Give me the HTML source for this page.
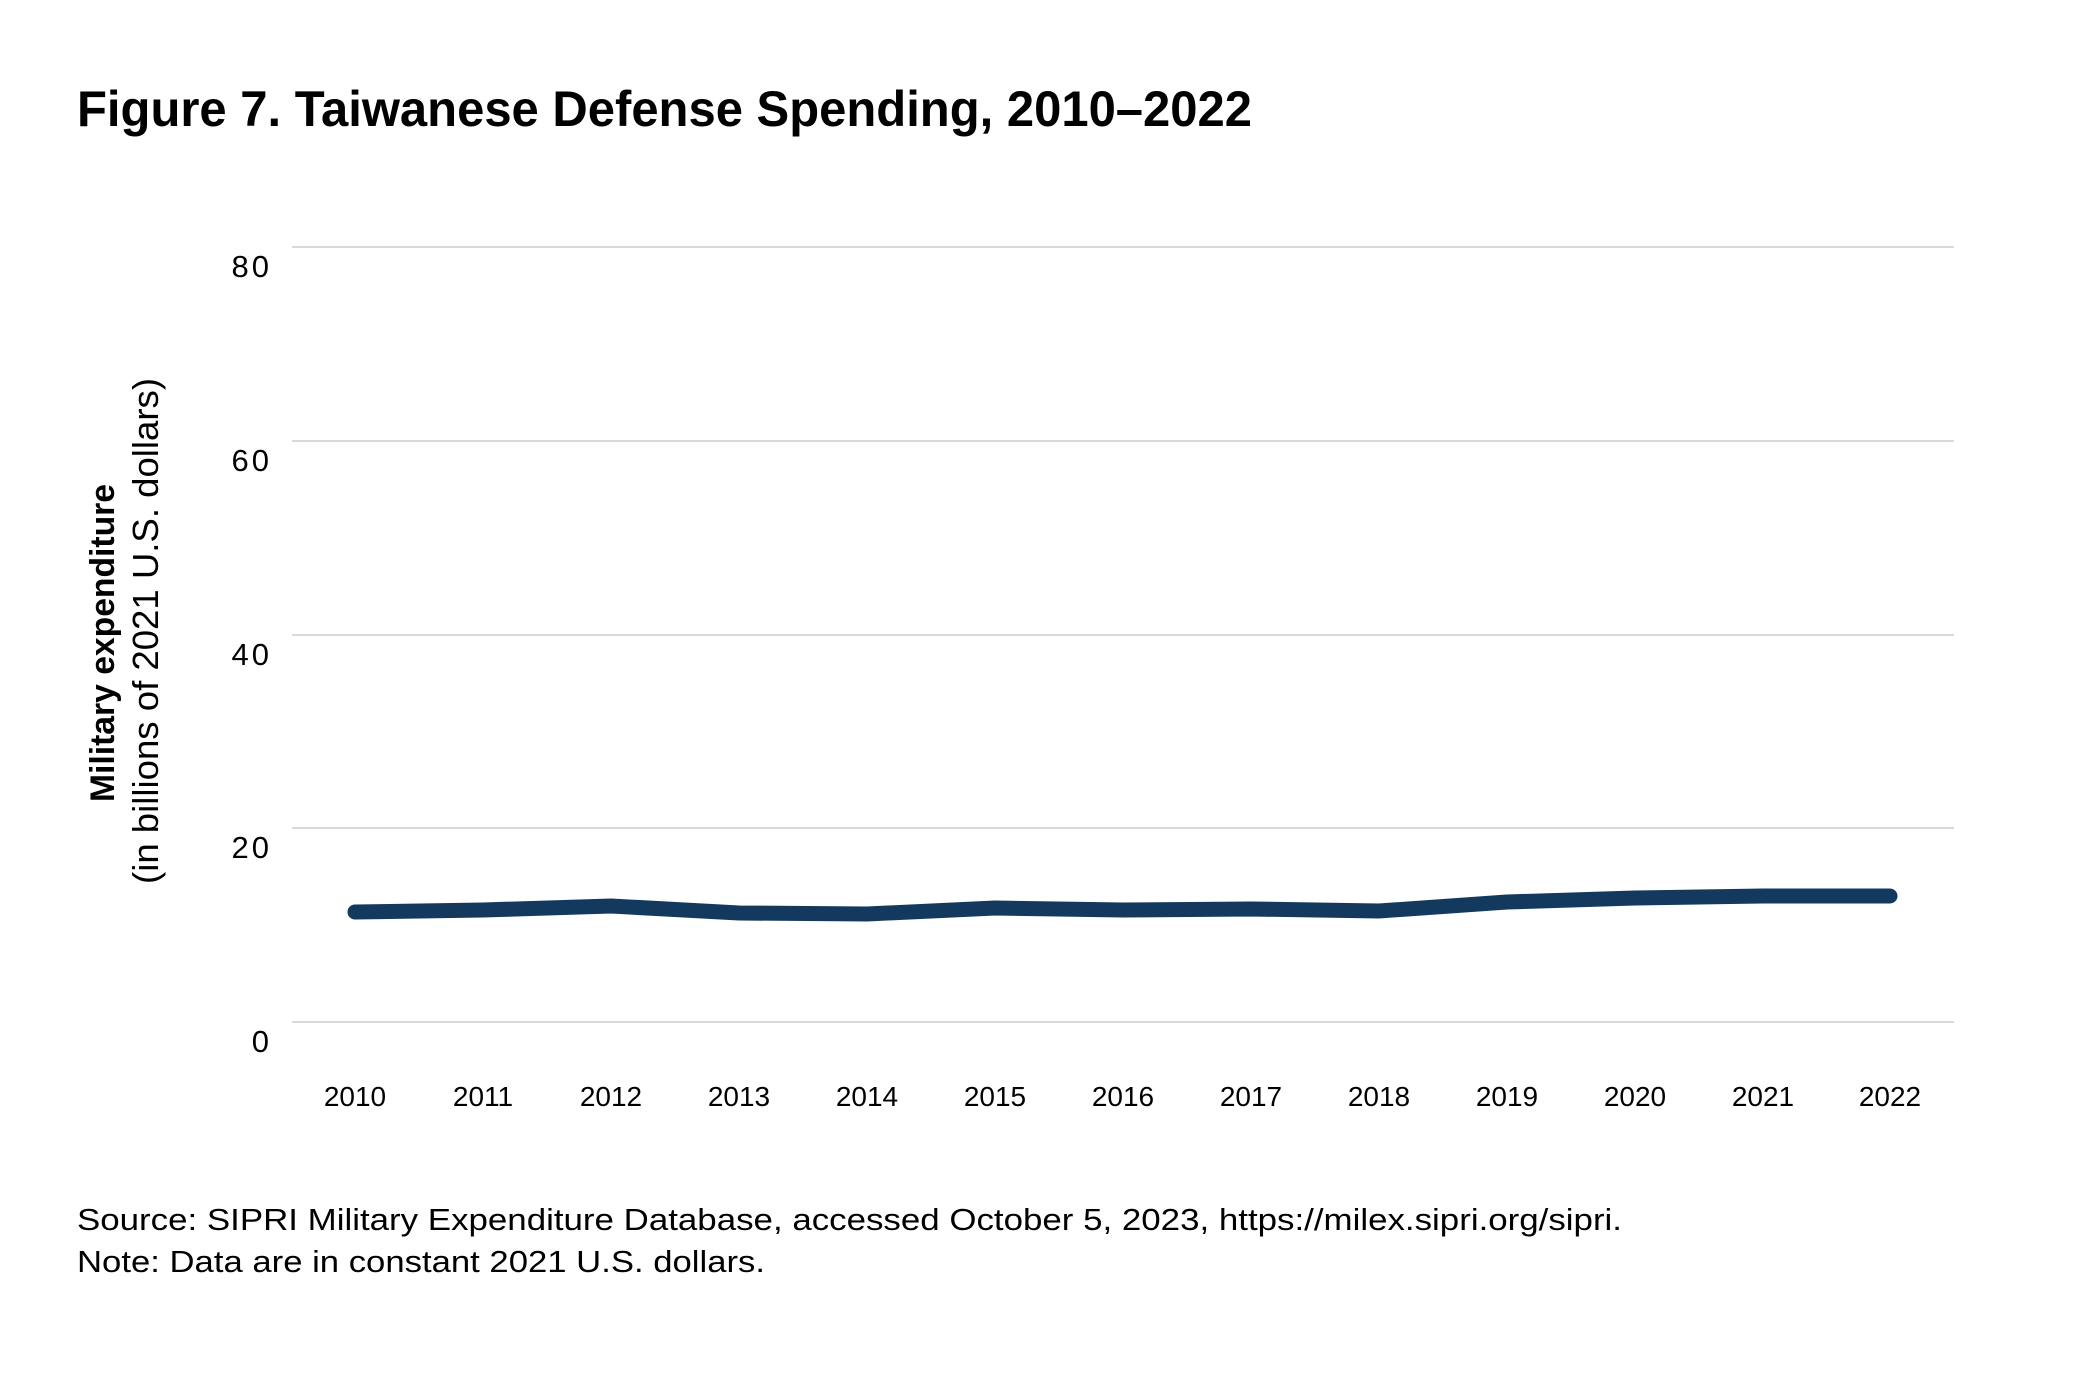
<!DOCTYPE html>
<html><head><meta charset="utf-8"><style>
html,body{margin:0;padding:0;background:#fff;}
svg{display:block;}
</style></head><body>
<svg width="2084" height="1374" xmlns="http://www.w3.org/2000/svg" font-family="Liberation Sans, sans-serif">
<rect width="2084" height="1374" fill="#fff"/>
<text x="77" y="126" font-size="50" font-weight="bold" fill="#000" textLength="1175" lengthAdjust="spacingAndGlyphs">Figure 7. Taiwanese Defense Spending, 2010–2022</text>
<g stroke="#d9d9d9" stroke-width="2">
<line x1="292" x2="1954" y1="247" y2="247"/>
<line x1="292" x2="1954" y1="441" y2="441"/>
<line x1="292" x2="1954" y1="635" y2="635"/>
<line x1="292" x2="1954" y1="828" y2="828"/>
<line x1="292" x2="1954" y1="1022" y2="1022"/>
</g>
<g font-size="31" fill="#000" text-anchor="end" letter-spacing="3">
<text x="272" y="277">80</text>
<text x="272" y="471">60</text>
<text x="272" y="665">40</text>
<text x="272" y="858">20</text>
<text x="272" y="1052">0</text>
</g>
<text transform="translate(114,643) rotate(-90)" text-anchor="middle" font-size="34" font-weight="bold" fill="#000" textLength="318" lengthAdjust="spacingAndGlyphs">Military expenditure</text>
<text transform="translate(158,631) rotate(-90)" text-anchor="middle" font-size="36" fill="#000" textLength="506" lengthAdjust="spacingAndGlyphs">(in billions of 2021 U.S. dollars)</text>
<polyline fill="none" stroke="#133a5e" stroke-width="15" stroke-linecap="round" stroke-linejoin="round"
points="355,912 483,910 611,906 739,913 867,914 995,908 1123,910 1251,909 1379,911 1507,902 1635,898 1763,896 1890,896"/>
<g font-size="28" fill="#000" text-anchor="middle">
<text x="355" y="1106">2010</text><text x="483" y="1106">2011</text><text x="611" y="1106">2012</text>
<text x="739" y="1106">2013</text><text x="867" y="1106">2014</text><text x="995" y="1106">2015</text>
<text x="1123" y="1106">2016</text><text x="1251" y="1106">2017</text><text x="1379" y="1106">2018</text>
<text x="1507" y="1106">2019</text><text x="1635" y="1106">2020</text><text x="1763" y="1106">2021</text>
<text x="1890" y="1106">2022</text>
</g>
<text x="77" y="1230" font-size="31" fill="#000" textLength="1545" lengthAdjust="spacingAndGlyphs">Source: SIPRI Military Expenditure Database, accessed October 5, 2023, https://milex.sipri.org/sipri.</text>
<text x="77" y="1272" font-size="31" fill="#000" textLength="688" lengthAdjust="spacingAndGlyphs">Note: Data are in constant 2021 U.S. dollars.</text>
</svg>
</body></html>
